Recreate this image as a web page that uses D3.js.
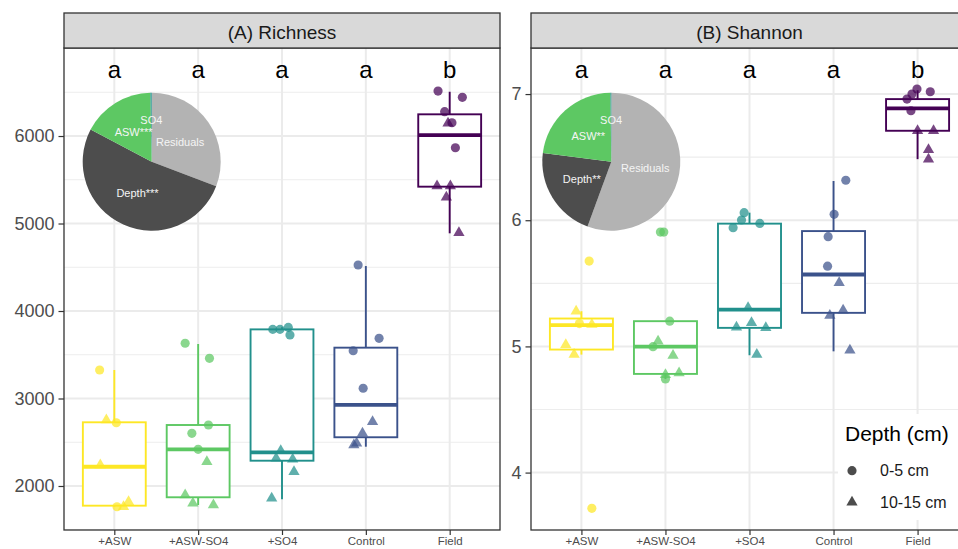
<!DOCTYPE html>
<html>
<head>
<meta charset="utf-8">
<script src="https://cdn.jsdelivr.net/npm/d3@7"></script>
<style>
body { margin: 0; background: #fff; }
svg { display: block; font-family: "Liberation Sans", Arial, sans-serif; }
</style>
</head>
<body>
<svg id="chart" width="958" height="549"></svg>
<script>
const groups = ['+ASW', '+ASW-SO4', '+SO4', 'Control', 'Field']
const groupColors = ['#FDE725', '#5DC863', '#21908C', '#3B528B', '#440154']
const letters = ['a', 'a', 'a', 'a', 'b']
const depths = ['0-5 cm', '10-15 cm']

const richTicks = [2000, 3000, 4000, 5000, 6000]
const shanTicks = [4, 5, 6, 7]

// box stats: [lower whisker, q1, median, q3, upper whisker]
const richBox = [
    [1763, 1775, 2220, 2728, 3326],
    [1783, 1871, 2419, 2697, 3623],
    [1848, 2289, 2385, 3790, 3813],
    [2449, 2557, 2926, 3581, 4514],
    [4888, 5421, 6011, 6248, 6506]
]
const shanBox = [
    [4.935, 4.975, 5.168, 5.221, 5.279],
    [4.742, 4.782, 4.998, 5.2, 5.2],
    [4.93, 5.147, 5.292, 5.973, 6.06],
    [4.961, 5.266, 5.57, 5.914, 6.311],
    [6.484, 6.709, 6.886, 6.96, 7.03]
]

// samples: [value, depth index, jitter (share of category step)]
const richPts = [
    [[3326, 0, -0.175], [2754, 1, -0.095], [2723, 0, 0.024], [2240, 1, -0.167], [1763, 0, 0.032], [1763, 1, 0.11], [1820, 1, 0.17]],
    [[3631, 0, -0.155], [3459, 0, 0.135], [2697, 0, 0.123], [2602, 0, -0.075], [2419, 0, 0], [2278, 1, 0.104], [1897, 1, -0.155], [1802, 1, -0.063], [1783, 1, 0.182]],
    [[3790, 0, -0.11], [3790, 0, -0.024], [3813, 0, 0.075], [3726, 0, 0.095], [2403, 1, -0.015], [2316, 1, -0.07], [2305, 1, 0.127], [2163, 1, 0.143], [1859, 1, -0.123]],
    [[4526, 0, -0.092], [3688, 0, 0.158], [3546, 0, -0.151], [3117, 0, -0.032], [2735, 1, 0.08], [2602, 1, -0.04], [2488, 1, -0.11], [2469, 1, -0.143]],
    [[6514, 0, -0.139], [6442, 0, 0.151], [6278, 0, -0.06], [6145, 1, -0.02], [6152, 0, 0.027], [5866, 0, 0.068], [5429, 1, -0.151], [5429, 1, 0.008], [5299, 1, -0.04], [4895, 1, 0.11]]
]
const shanPts = [
    [[5.676, 0, 0.092], [5.279, 1, -0.063], [5.181, 0, -0.024], [5.173, 1, 0.124], [5.014, 1, -0.186], [4.935, 1, -0.087], [3.717, 0, 0.124]],
    [[5.906, 0, -0.06], [5.906, 0, -0.02], [5.2, 0, 0.051], [5.04, 1, -0.088], [4.998, 0, -0.148], [4.927, 1, 0.09], [4.79, 1, 0.162], [4.776, 1, 0], [4.742, 0, 0]],
    [[6.06, 0, -0.064], [6.002, 0, -0.095], [5.975, 0, 0.123], [5.941, 0, -0.195], [5.306, 1, -0.017], [5.152, 1, -0.155], [5.187, 1, 0.024], [5.147, 1, 0.194], [4.935, 1, 0.087]],
    [[6.317, 0, 0.146], [6.047, 0, 0.007], [5.87, 0, -0.064], [5.636, 0, -0.071], [5.504, 1, 0.067], [5.245, 1, -0.044], [5.287, 1, 0.114], [4.969, 1, 0.195]],
    [[7.04, 0, -0.007], [7.018, 0, 0.151], [7.0, 0, -0.067], [6.96, 0, -0.126], [6.868, 0, -0.079], [6.709, 1, 0], [6.709, 1, 0.19], [6.558, 1, 0.13], [6.484, 1, 0.13]]
]

// variance partition pies (%), clockwise from 12 o'clock
const pieParts = ['Residuals', 'Depth', 'ASW', 'SO4']
const pieColors = ['#B3B3B3', '#4D4D4D', '#5DC863', '#21908C']
const richPie = [30.8, 51.9, 17.0, 0.3]
const richPieLabels = ['Residuals', 'Depth***', 'ASW***', 'SO4']
const shanPie = [55.6, 21.4, 22.8, 0.2]
const shanPieLabels = ['Residuals', 'Depth**', 'ASW**', 'SO4']

const svg = d3.select('#chart')
const plotTop = 48, plotBottom = 530, stripTop = 13

const panels = [
    { title: '(A) Richness', x0: 64, x1: 500, domain: [1497, 7006], ticks: richTicks, box: richBox, pts: richPts, pie: richPie, pieLabels: richPieLabels, pieAt: [151.7, 161.7] },
    { title: '(B) Shannon', x0: 531, x1: 968, domain: [3.545, 7.365], ticks: shanTicks, box: shanBox, pts: shanPts, pie: shanPie, pieLabels: shanPieLabels, pieAt: [611.3, 161.7] }
]

const triangle = d3.symbol(d3.symbolTriangle, 55)
const circle = d3.symbol(d3.symbolCircle, 66)

panels.forEach((p, pi) => {
    const x = d3.scalePoint().domain(groups).range([p.x0, p.x1]).padding(0.6)
    const y = d3.scaleLinear().domain(p.domain).range([plotBottom, plotTop])
    const step = x.step()
    const g = svg.append('g')

    svg.append('clipPath').attr('id', 'clip' + pi)
        .append('rect').attr('x', p.x0).attr('y', plotTop).attr('width', p.x1 - p.x0).attr('height', plotBottom - plotTop)
    const body = g.append('g').attr('clip-path', `url(#clip${pi})`)

    // grid
    const tStep = p.ticks[1] - p.ticks[0]
    const minor = [p.ticks[0] - tStep / 2, ...p.ticks.map(t => t + tStep / 2)]
    body.selectAll('line.minor').data(minor).join('line')
        .attr('x1', p.x0).attr('x2', p.x1)
        .attr('y1', d => y(d)).attr('y2', d => y(d))
        .attr('stroke', '#EDEDED').attr('stroke-width', 1.2)
    body.selectAll('line.major').data(p.ticks).join('line')
        .attr('x1', p.x0).attr('x2', p.x1)
        .attr('y1', d => y(d)).attr('y2', d => y(d))
        .attr('stroke', '#EBEBEB').attr('stroke-width', 2)
    body.selectAll('line.vmajor').data(groups).join('line')
        .attr('x1', d => x(d)).attr('x2', d => x(d))
        .attr('y1', plotTop).attr('y2', plotBottom)
        .attr('stroke', '#EBEBEB').attr('stroke-width', 2)

    // pie inset
    const R = 69
    const arcs = d3.pie().sort(null).value(d => d)(p.pie)
    const arc = d3.arc().innerRadius(0).outerRadius(R)
    const pieG = body.append('g').attr('transform', `translate(${p.pieAt[0]},${p.pieAt[1]})`)
    pieG.selectAll('path').data(arcs).join('path')
        .attr('d', arc)
        .attr('fill', (d, i) => pieColors[i])
    pieG.selectAll('text').data(arcs).join('text')
        .attr('transform', (d, i) => {
            const r = i === 3 ? R * 0.6 : R * 0.5
            const a = (d.startAngle + d.endAngle) / 2
            return `translate(${Math.sin(a) * r},${-Math.cos(a) * r})`
        })
        .attr('text-anchor', 'middle').attr('dy', '0.35em')
        .attr('fill', '#F5F5F5').attr('font-size', 11)
        .text((d, i) => p.pieLabels[i])

    // boxplots
    const bw = step * 0.75
    p.box.forEach((b, i) => {
        const cx = x(groups[i])
        const col = groupColors[i]
        body.append('line').attr('x1', cx).attr('x2', cx).attr('y1', y(b[0])).attr('y2', y(b[1]))
            .attr('stroke', col).attr('stroke-width', 1.9)
        body.append('line').attr('x1', cx).attr('x2', cx).attr('y1', y(b[3])).attr('y2', y(b[4]))
            .attr('stroke', col).attr('stroke-width', 1.9)
        body.append('rect').attr('x', cx - bw / 2).attr('width', bw)
            .attr('y', y(b[3])).attr('height', y(b[1]) - y(b[3]))
            .attr('fill', '#fff').attr('stroke', col).attr('stroke-width', 1.9)
        body.append('line').attr('x1', cx - bw / 2).attr('x2', cx + bw / 2)
            .attr('y1', y(b[2])).attr('y2', y(b[2]))
            .attr('stroke', col).attr('stroke-width', 3.8)
    })

    // samples
    p.pts.forEach((pts, i) => {
        body.append('g').selectAll('path').data(pts).join('path')
            .attr('transform', d => `translate(${x(groups[i]) + d[2] * step},${y(d[0])})`)
            .attr('d', d => d[1] === 0 ? circle() : triangle())
            .attr('fill', groupColors[i]).attr('fill-opacity', 0.72)
    })

    // significance letters
    g.selectAll('text.letter').data(letters).join('text')
        .attr('x', (d, i) => x(groups[i])).attr('y', plotTop + 30)
        .attr('text-anchor', 'middle').attr('font-size', 24).attr('fill', '#000')
        .text(d => d)

    // panel border + strip
    g.append('rect').attr('x', p.x0).attr('y', plotTop).attr('width', p.x1 - p.x0).attr('height', plotBottom - plotTop)
        .attr('fill', 'none').attr('stroke', '#333333').attr('stroke-width', 1.3)
    g.append('rect').attr('x', p.x0).attr('y', stripTop).attr('width', p.x1 - p.x0).attr('height', plotTop - stripTop)
        .attr('fill', '#D9D9D9').attr('stroke', '#333333').attr('stroke-width', 1.3)
    g.append('text').attr('x', (p.x0 + p.x1) / 2).attr('y', 39)
        .attr('text-anchor', 'middle').attr('font-size', 19).attr('fill', '#1A1A1A')
        .text(p.title)

    // axes
    const yAxis = g.append('g').attr('transform', `translate(${p.x0},0)`)
        .call(d3.axisLeft(y).tickValues(p.ticks).tickSize(5.5).tickPadding(4).tickFormat(d3.format('d')))
    yAxis.select('.domain').remove()
    yAxis.selectAll('line').attr('stroke', '#333333').attr('stroke-width', 1.2)
    yAxis.selectAll('text').attr('font-size', 18).attr('fill', '#4D4D4D').attr('font-family', null)

    const xAxis = g.append('g').attr('transform', `translate(0,${plotBottom})`)
        .call(d3.axisBottom(x).tickSize(5).tickPadding(2))
    xAxis.select('.domain').remove()
    xAxis.selectAll('line').attr('stroke', '#333333').attr('stroke-width', 1.2)
    xAxis.selectAll('text').attr('font-size', 11.5).attr('fill', '#4D4D4D').attr('font-family', null)
})

// legend
const leg = svg.append('g')
leg.append('rect').attr('x', 838).attr('y', 414).attr('width', 125).attr('height', 106).attr('fill', '#fff')
leg.append('text').attr('x', 845).attr('y', 441).attr('font-size', 21).attr('fill', '#000').text('Depth (cm)')
leg.selectAll('path.key').data(depths).join('path')
    .attr('transform', (d, i) => `translate(852,${470.7 + i * 31.6})`)
    .attr('d', (d, i) => i === 0 ? circle() : triangle())
    .attr('fill', '#000').attr('fill-opacity', 0.7)
leg.selectAll('text.lab').data(depths).join('text')
    .attr('x', 880).attr('y', (d, i) => 470.7 + i * 31.6).attr('dy', '0.35em')
    .attr('font-size', 16).attr('fill', '#1A1A1A')
    .text(d => d)
</script>
</body>
</html>
